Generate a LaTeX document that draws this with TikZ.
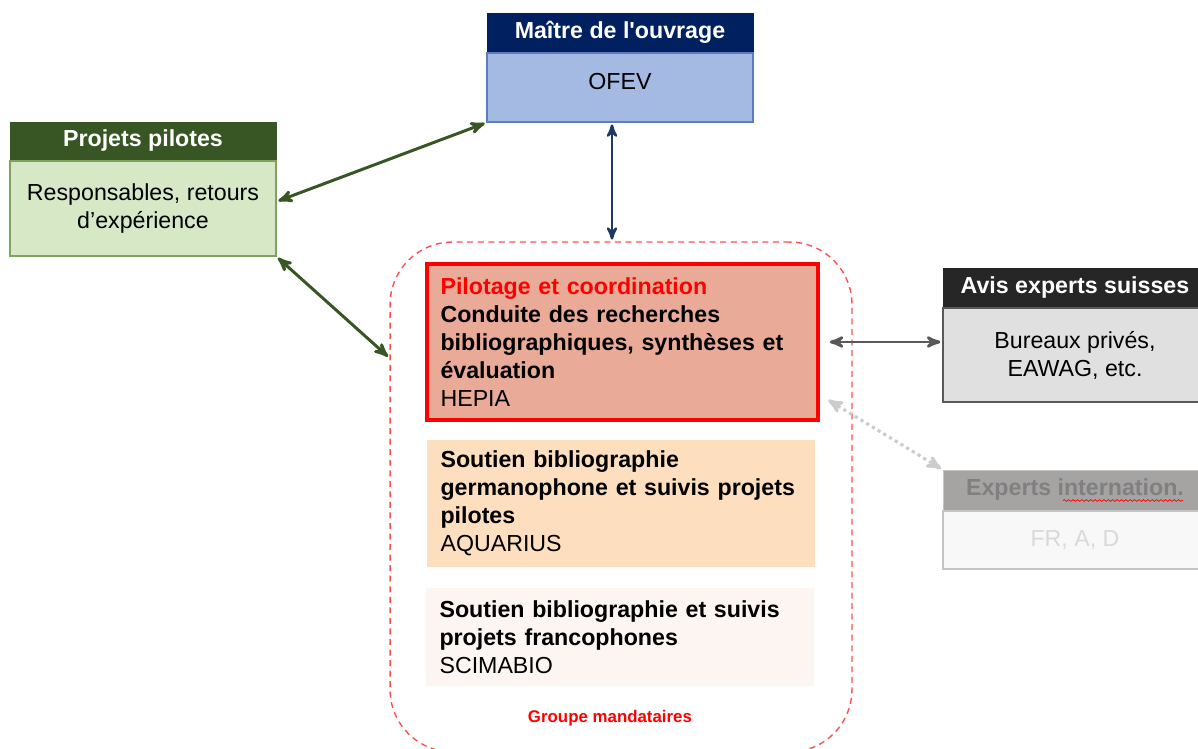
\documentclass[tikz,border=0pt]{standalone}
\usepackage{fontspec}
\setmainfont{Liberation Sans}
\usetikzlibrary{arrows, positioning, decorations.pathmorphing}

\definecolor{navyhead}{HTML}{002060}
\definecolor{bluebody}{HTML}{A4BAE2}
\definecolor{blueline}{HTML}{5B7DBF}
\definecolor{greenhead}{HTML}{375623}
\definecolor{greenbody}{HTML}{D6E8C6}
\definecolor{greenline}{HTML}{7FA35F}
\definecolor{greyhead}{HTML}{262626}
\definecolor{greybody}{HTML}{E0E0E0}
\definecolor{greyline}{HTML}{595959}
\definecolor{palehead}{HTML}{A6A3A3}
\definecolor{palebody}{HTML}{F8F8F8}
\definecolor{paleline}{HTML}{C4C4C4}
\definecolor{hepiafill}{HTML}{EAAA98}
\definecolor{aquafill}{HTML}{FDDFC0}
\definecolor{scimafill}{HTML}{FDF5F2}
\definecolor{groupred}{HTML}{FF5050}
\definecolor{arrowgreen}{HTML}{375623}
\definecolor{arrownavy}{HTML}{1F3864}

\begin{document}
\begin{tikzpicture}[x=0.02cm, y=-0.02cm, >=stealth', node distance=0pt,
    head/.style={rectangle, draw, inner sep=0pt, minimum width=5.32cm, minimum height=0.78cm, text=white, font=\fontsize{13.2}{16}\selectfont\bfseries},
    body/.style={rectangle, draw, inner sep=0pt, minimum width=5.32cm, align=center, font=\fontsize{13.2}{16}\selectfont},
    team/.style={rectangle, inner ysep=0pt, inner xsep=0.27cm, align=left, text width=7.22cm, minimum width=7.76cm, font=\fontsize{13.2}{16}\selectfont\bfseries},
    link/.style={<->, shorten <=1pt, shorten >=1pt}]
    \useasboundingbox (0,0) rectangle (1198,749);

    % groupe mandataires
    \node[draw=groupred, dashed, dash pattern=on 3.4pt off 2.6pt, line width=0.8pt, rounded corners=1.25cm, minimum width=9.24cm, minimum height=10.2cm] (groupe) at (621,497) {};
    \node[text=red, font=\fontsize{9.6}{11}\selectfont\bfseries] (label) at (610,718) {Groupe mandataires};

    \node[team, draw=red, line width=2pt, fill=hepiafill, minimum width=7.82cm, text width=7.28cm, minimum height=3.12cm] (hepia) at (622.5,342) {{\color{red}Pilotage et coordination}\\Conduite des recherches\\bibliographiques, synthèses et\\évaluation\\\mdseries HEPIA};
    \node[team, fill=aquafill, minimum height=2.54cm] (aqua) at (621,503.5) {Soutien bibliographie\\germanophone et suivis projets\\pilotes\\\mdseries AQUARIUS};
    \node[team, fill=scimafill, minimum height=1.96cm] (scima) at (620,637) {Soutien bibliographie et suivis\\projets francophones\\\mdseries SCIMABIO};

    % partenaires
    \node[head, draw=navyhead, fill=navyhead] (maitre) at (620,32.5) {\raisebox{-0.04cm}{Ma\^{\i}tre de l\textquotesingle ouvrage}};
    \node[body, draw=blueline, fill=bluebody, minimum height=1.38cm, line width=0.8pt] (ofev) [below=of maitre] {\raisebox{0.24cm}{OFEV}};

    \node[head, draw=greenhead, fill=greenhead, minimum height=0.76cm] (pilotes) at (143,141) {Projets pilotes};
    \node[body, draw=greenline, fill=greenbody, minimum height=1.9cm, line width=0.8pt] (resp) [below=of pilotes] {Responsables, retours\\d’expérience};

    \node[head, draw=greyhead, fill=greyhead, minimum width=5.28cm] (avis) at (1075,287.5) {Avis experts suisses};
    \node[body, draw=greyline, fill=greybody, minimum width=5.28cm, minimum height=1.88cm, line width=1pt] (bureaux) [below=of avis] {Bureaux privés,\\EAWAG, etc.};

    \node[head, draw=paleline, fill=palehead, text=black!50, minimum width=5.28cm, minimum height=0.8cm] (intl) at (1075,490) {Experts internation.};
    \node[body, draw=paleline, fill=palebody, text=black!15, minimum width=5.28cm, minimum height=1.16cm, line width=0.8pt] (frad) [below=of intl] {FR, A, D};
    \draw[red, line width=0.4pt, decorate, decoration={snake, amplitude=0.5pt, segment length=2.5pt}] (1063,500.5) -- (1183,500.5);

    % liens
    \draw[link, arrowgreen, line width=1.7pt] (resp.east) ++(0,-7) -- (ofev.south west);
    \draw[link, arrowgreen, line width=1.7pt] (resp.south east) -- (groupe.149);
    \draw[link, arrownavy, line width=1.4pt] ([xshift=-0.16cm]ofev.south) -- ([xshift=-0.16cm]ofev.south |- groupe.north);
    \draw[link, greyline, line width=1.6pt, shorten <=0.2cm] (hepia.east) -- (hepia.east -| bureaux.west);
    \draw[link, black!20, line width=1.8pt, dotted, shorten <=0.2cm] (hepia.-15) -- (intl.north west);
\end{tikzpicture}
\end{document}
